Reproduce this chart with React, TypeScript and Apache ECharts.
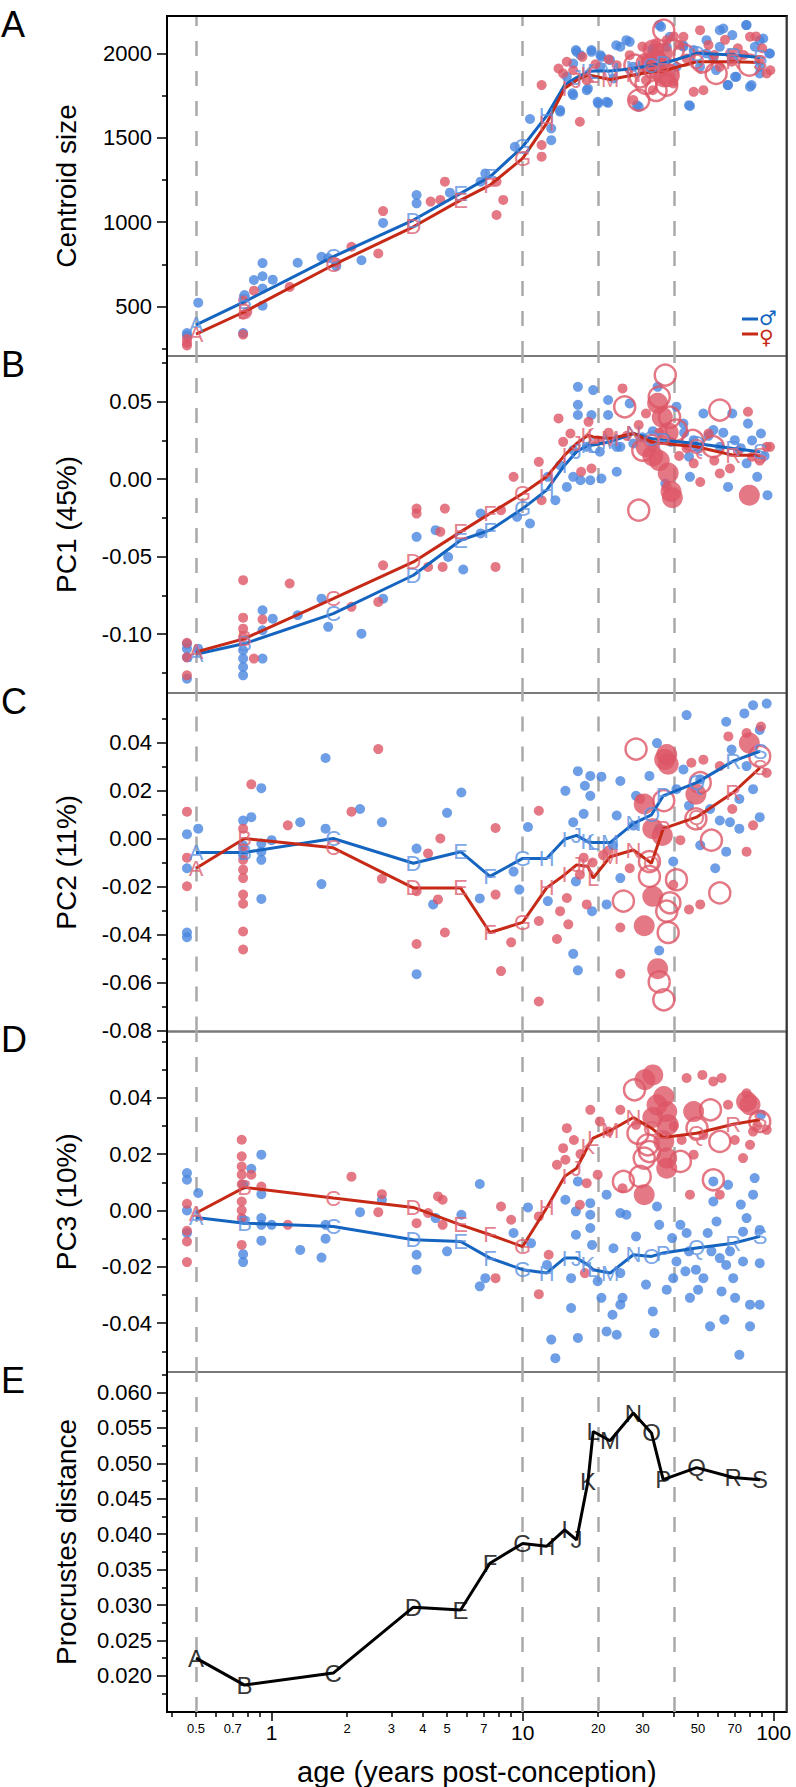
import React, { useEffect, useRef } from "react";
import * as echarts from "echarts";

// ---------- DATA ----------
const groupLetters = ["A","B","C","D","E","F","G","H","I","J","K","L","M","N","O","P","Q","R","S"];
const groupAges = [0.5,0.78,1.76,3.67,5.66,7.41,10.0,12.46,14.7,16.4,18.2,19.1,22.3,27.6,32.6,36.3,49.3,69,88.2];

const csMaleMean = [392,530,796,1013,1171,1269,1447,1630,1813,1857,1891,1895,1896,1910,1930,1940,2000,1990,1976];
const csFemaleMean = [337,470,747,973,1131,1220,1378,1585,1793,1841,1872,1866,1845,1872,1891,1896,1950,1950,1946];
const pc1MaleMean = [-0.113,-0.1061,-0.0868,-0.062,-0.0394,-0.0329,-0.019,-0.0071,0.009,0.0177,0.022,0.022,0.0241,0.0295,0.0263,0.0252,0.023,0.0198,0.0177];
const pc1FemaleMean = [-0.1115,-0.1029,-0.0771,-0.0534,-0.034,-0.0222,-0.0092,0.0015,0.0155,0.023,0.0284,0.0273,0.0263,0.0295,0.0241,0.023,0.0209,0.0155,0.0155];
const pc2MaleMean = [-0.0058,-0.0058,0.0,-0.0103,-0.0055,-0.0158,-0.0083,-0.0083,-0.0003,0.0013,-0.0014,-0.0017,-0.0017,0.0062,0.0099,0.0178,0.0233,0.0323,0.0364];
const pc2FemaleMean = [-0.0124,0.0,-0.0039,-0.0206,-0.0206,-0.0392,-0.035,-0.0206,-0.0151,-0.011,-0.0117,-0.0165,-0.0076,-0.0048,-0.0103,0.0041,0.0089,0.0192,0.0295];
const pc3MaleMean = [-0.0025,-0.0045,-0.0057,-0.0104,-0.011,-0.0169,-0.021,-0.0222,-0.0169,-0.0169,-0.0193,-0.021,-0.0222,-0.0157,-0.0163,-0.0151,-0.0133,-0.0116,-0.0092];
const pc3FemaleMean = [-0.0009,0.0082,0.0044,0.0011,-0.0051,-0.0086,-0.0128,0.0009,0.0121,0.015,0.0227,0.0257,0.0283,0.033,0.0292,0.0259,0.0274,0.0306,0.0322];
const procrustesDist = [0.0225,0.0187,0.0204,0.0297,0.0293,0.0359,0.0387,0.0383,0.0406,0.0392,0.0474,0.0545,0.0532,0.0571,0.0543,0.0477,0.0494,0.048,0.0477];

const csMale = [[0.46,344],[0.46,330],[0.51,524],[0.77,344],[0.78,569],[0.85,658],[0.92,758],[0.92,680],[0.92,607],[0.92,506],[1.01,660],[1.27,760],[1.58,795],[1.68,788],[1.81,740],[2.28,775],[2.78,996],
[3.78,1161],[3.78,1112],[5.13,1175],[6.8,1240],[7.1,1289],[9.31,1447],[10.7,1611],[13,1555],[13,1486],[14.1,1654],[15.9,1753],[16.3,2019],[17,1989],[18,1782],[18.8,2019],[20,1703],[21.9,1707],[20.6,1979],[22.3,1960],[24.5,2039],[25.9,2078],[23,1851],[27.6,1920],[29,1684],[32.9,2019],[35.6,2157],[38.6,2098],[43.7,2039],[46.4,1688],[50.9,1920],[57.5,1970],[63,2147],[65.8,1812],[68.4,2108],[70.2,1861],[78,2167],[81.6,1812],[84.2,2039],[88,1920],[90.9,2088],[96.7,1999],[88,1881],[61,2039],[54,2078],[48,2019],[41,1920],[32.5,1950],[20.3,1920],[15.9,1940],[15,1861],
[16.4,2009],[18.8,2009],[20.4,1989],[23.6,2048],[26.7,2068],[35,2167],[37.5,2038],[33,2029],[43.6,2048],[54,1999],[61,2137],[68.8,1979],[77.7,2167],[88,2078],[96,1999],[71,1861],[65.6,1812],[46,1693],[28.5,1693],[21.6,1713],[19.9,1713],[15.8,1763],[18.2,1792],[14.1,1664],[59,1901],[80.5,1802]];
const csFemale = [[0.46,285],[0.46,270],[0.46,310],[0.77,335],[0.77,452],[0.77,540],[0.8,470],[0.85,595],[1.18,617],[1.81,760],[2.08,855],[2.66,815],[2.78,1066],[4.9,1240],[4.3,1122],[4.7,1132],[7.87,1043],[8.37,1132],[7.87,1240],[11.9,1457],[11.9,1388],[11.9,1812],[13.9,1910],[15,1950],[16.9,1595],[18,1841],[15.9,1900],[17.3,1979],[26.7,1989],[27.6,1723],[48,1772],[52.5,1782],[43.7,2098],[50.9,2137],[45,1969],[67,1999],[80.5,2098],[88,1960],[93.8,1881],[61,1920],[68,1950],[37.5,2078],[31,1960],[35,1920],[31,1841],[33,1782],[39.8,1822],[23.7,1930],[14.5,1880],[19.5,1935],[22,1965],[30,2040],[34,2060],[40,2100],[42,2050],[55,2050],[58,1990],[64,2080],[72,2030],[76,1990],[85,2100],[90,2030],[97,1900]];
const csFemaleRing = [[29,1723],[36.5,2137],[31,1822],[37.5,1812],[33,1920],[29.4,1861],[39.8,2019],[59,1881],[80,1930],[34,1780],[38,1870],[44,1990],[52,1950],[28,1930]];
const csFemaleLarge = [[33,2019],[36,2000],[35,1920],[31,1940],[38,1880],[34,1960],[36.5,1860]];

const pc1Male = [[0.46,-0.1062],[0.46,-0.1094],[0.46,-0.115],[0.46,-0.1288],[0.51,-0.1094],[0.77,-0.1212],[0.77,-0.1266],[0.77,-0.1158],[0.77,-0.1104],[0.92,-0.0846],[0.92,-0.0975],[0.92,-0.1158],[1.01,-0.09],[1.27,-0.0878],[1.58,-0.0771],[1.68,-0.0953],[2.28,-0.0997],[2.78,-0.0771],
[3.78,-0.0372],[4.5,-0.0329],[5.05,-0.0502],[5.8,-0.0583],[6.8,-0.0222],[6.8,-0.035],[9.5,-0.0243],[10.7,-0.0286],[12.6,0.0015],[13.5,-0.0136],[15,-0.005],[15.9,0.0015],[16.6,0.0596],[16.6,0.048],[16.6,0.0414],[19.1,0.0575],[18.8,0.0414],[17,-0.0007],[18.6,-0.0007],[20.6,0.0004],[21.9,0.0511],[21.9,0.0414],[23.7,0.0048],[24.5,0.0209],[26.7,0.0489],[34.5,0.0596],[37,-0.0028],[41,0.0468],[43.7,0.0359],[46.4,0.0015],[52.5,0.0424],[57.5,0.0317],[65.8,-0.005],[68.4,0.0424],[79,0.0359],[89,0.0295],[94.5,-0.0103],[86,0.0015],[78,0.0102],[61,0.0209],[48,0.0252],[70,0.0252],[46,0.0145],[23.7,0.0209],[27.6,0.023],[20.3,0.0177],[18,0.0209],[15.9,0.0187],[14.1,0.009],[30,0.027],[33,0.031],[39,0.024],[44,0.03],[50,0.02],[55,0.028],[63,0.03],[74,0.02],[82,0.025],[92,0.015]];
const pc1Female = [[0.46,-0.115],[0.46,-0.1266],[0.46,-0.1056],[0.77,-0.0652],[0.77,-0.0894],[0.77,-0.0965],[0.77,-0.1019],[0.85,-0.1158],[0.92,-0.0905],[1.18,-0.0673],[2.08,-0.0824],[2.66,-0.0792],[2.78,-0.0556],
[3.78,-0.019],[3.78,-0.0222],[4.9,-0.019],[4.7,-0.034],[4.2,-0.0566],[4.8,-0.0566],[7.8,-0.0566],[8.2,-0.02],[9.2,0.0015],[11.6,0.0112],[11.9,-0.0136],[13.9,0.0392],[14.5,0.0241],[15.5,0.0295],[17.1,0.0048],[18.3,0.037],[18.8,0.0069],[25,0.0586],[31,0.0424],[33,0.0209],[37.5,-0.005],[48,0.0102],[51,-0.0018],[61,0.0037],[67,0.0069],[79,0.0435],[93.8,0.0209],[96.7,0.0209],[82,0.0145],[55,0.0295],[20,0.025],[22,0.03],[26,0.028],[29,0.035],[35,0.03],[42,0.015],[45,0.02],[58,0.012],[72,0.018],[88,0.012]];
const pc1FemaleRing = [[37,0.0672],[29,-0.02],[61,0.0446],[25.5,0.0467],[35,0.053],[38.5,0.04],[30.1,0.0187],[41,0.0317],[47.6,0.025],[57.4,0.021]];
const pc1FemaleLarge = [[34.5,0.049],[36,0.04],[38,0.03],[35,0.012],[38,0.004],[39,-0.008],[39.5,-0.012],[33,0.015],[31,0.021],[80,-0.0103]];

const pc2Male = [[0.46,0.0018],[0.46,-0.0124],[0.46,-0.0392],[0.46,-0.0412],[0.51,0.0041],[0.77,0.0075],[0.77,-0.0028],[0.77,-0.0069],[0.83,0.0089],[0.91,0.021],[0.91,-0.0021],[0.91,-0.0055],[0.91,-0.0089],[0.91,-0.0252],[1.0,-0.0007],[1.3,0.0068],[1.58,-0.019],[1.64,0.0336],[1.64,0.0041],[2.25,0.0123],[2.75,0.0068],
[3.78,-0.0042],[3.78,-0.0566],[4.4,-0.0275],[5.0,0.0107],[5.7,0.0192],[6.75,-0.025],[9.2,-0.0138],[9.7,-0.0213],[10.5,0.0048],[12.6,-0.0261],[14.8,0.0199],[15.9,0.0068],[15.9,-0.0481],[16.6,0.0281],[16.6,-0.055],[17.5,0.0103],[17.7,0.022],[18.6,0.0261],[18.6,0.0178],[20.6,0.0258],[16.3,-0.0179],[18.9,-0.0303],[21.6,-0.0275],[24.5,0.024],[24.5,-0.0165],[23.7,0.0096],[28.3,0.0178],[32,0.0261],[34.3,0.0398],[35,-0.0467],[39.8,-0.0096],[43.7,0.0288],[45,0.0515],[46,0.0137],[51,0.0247],[58.5,-0.0124],[61,0.0075],[64.7,0.0487],[64.7,-0.0055],[68,0.0371],[73,0.0041],[76.4,0.0522],[82.8,0.0556],[93.8,0.0563],[88,0.0089],[82.8,0.0206],[78,0.0302],[88,0.0453],[51,-0.0028],[55.8,0.0123],[67,0.0068],[73,0.0165],[41,0.0206],[35,0.0041],[27.6,0.0054],[22.9,-0.0028]];
const pc2Female = [[0.46,0.0112],[0.46,-0.008],[0.46,-0.0199],[0.77,0.0041],[0.77,-0.0041],[0.77,-0.0089],[0.77,-0.013],[0.77,-0.0165],[0.77,-0.0234],[0.77,-0.0272],[0.77,-0.0388],[0.77,-0.0463],[0.83,0.0226],[1.16,0.0055],[2.08,0.0112],[2.66,0.0373],[2.75,-0.0168],
[3.78,-0.022],[3.78,-0.044],[4.2,-0.0062],[4.7,0.0],[4.6,-0.0254],[4.9,-0.0392],[7.8,0.0044],[7.8,-0.0234],[8.2,-0.0553],[9.0,-0.0433],[11.6,0.0116],[11.6,-0.0344],[11.6,-0.068],[13.7,-0.0419],[14.1,-0.0303],[15,-0.0248],[15.2,-0.0358],[18,-0.0275],[16.9,-0.0151],[20.9,-0.0069],[24.5,-0.0371],[24.5,-0.0564],[26.7,-0.0124],[29.4,0.0165],[39.8,-0.0193],[42.5,-0.0007],[46,-0.0296],[47,0.0316],[51,-0.0275],[52.5,0.0329],[66,0.0426],[68.4,0.0123],[78,-0.0055],[82.8,0.0055],[89,0.0467],[93.8,0.0274],[78,0.044],[61,0.0302],[19,-0.01],[22,-0.005],[17.5,-0.008]];
const pc2FemaleRing = [[28.3,0.0373],[36.5,0.0158],[32,-0.0096],[32,-0.0158],[41,-0.0172],[25.2,-0.0261],[38.6,-0.0268],[37.5,-0.0303],[38,-0.0392],[35,-0.0598],[36.5,-0.0673],[61,-0.0227],[56.5,-0.0007],[49,0.0082],[88,0.0343],[51,0.0233]];
const pc2FemaleLarge = [[37.5,0.035],[38,0.031],[36.8,0.033],[30.5,0.0144],[33,0.0041],[36,0.0013],[49,0.0185],[33,-0.0241],[30.5,-0.0364],[34.5,-0.0543],[80,0.0398]];

const pc3Male = [[0.46,0.0133],[0.46,0.0109],[0.46,0.0],[0.46,-0.008],[0.51,0.0062],[0.77,0.0091],[0.77,-0.0033],[0.77,-0.0155],[0.77,-0.0183],[0.83,0.0148],[0.91,0.0198],[0.91,0.0058],[0.91,-0.0027],[0.91,-0.0051],[0.91,-0.0107],[1.0,-0.0051],[1.3,-0.014],[1.58,-0.0167],[1.64,-0.01],[1.64,-0.0051],[2.25,-0.0006],[2.75,0.0038],
[3.78,-0.0157],[3.78,-0.021],[4.5,-0.0027],[5.0,-0.0145],[5.7,-0.0015],[6.75,0.0094],[6.75,-0.0269],[7.1,-0.024],[9.2,-0.008],[10.5,0.0011],[10.8,-0.0116],[12.5,-0.0193],[13,-0.0458],[13.5,-0.0524],[14.8,0.0038],[15.6,-0.024],[15.6,-0.0346],[16.3,-0.0003],[16.3,-0.0086],[16.6,-0.0452],[16.6,0.0103],[18.6,0.0026],[18.6,-0.0015],[18.6,-0.0062],[18.9,-0.0122],[19.9,-0.0251],[20.6,-0.031],[21.6,0.0056],[21.6,-0.0429],[22.8,-0.037],[23.7,-0.0441],[24.5,-0.0009],[24.5,-0.0334],[25,-0.031],[25.9,-0.0015],[23,-0.0134],[24.5,-0.0222],[28.3,-0.0092],[31,-0.0263],[33,-0.0358],[33.5,-0.0435],[34.3,0.0014],[35,-0.0051],[37.5,-0.0281],[39.4,-0.0098],[39.8,-0.024],[42.5,-0.0051],[44.5,-0.0216],[45,-0.008],[46.4,-0.031],[49,-0.021],[50,-0.0281],[52.5,-0.024],[54.6,-0.008],[55.8,-0.0411],[57.5,0.0103],[57.5,0.0032],[59.2,-0.0039],[61,-0.0169],[62,-0.0287],[63.6,-0.0387],[65.8,0.0091],[64.7,-0.0193],[69,-0.024],[70.2,-0.031],[73,-0.0512],[74,0.0021],[75.5,-0.0181],[78,-0.0027],[80.5,-0.0411],[80.5,-0.0334],[82.8,0.0056],[84,0.0115],[88,-0.0187],[88,-0.0334],[88,-0.0069],[89,0.034],[75.5,-0.0075],[67,-0.0145],[41,-0.0181],[46,-0.0145],[56.5,-0.0145]];
const pc3Female = [[0.46,0.0024],[0.46,-0.0072],[0.46,-0.011],[0.46,-0.0183],[0.76,0.0251],[0.76,0.0192],[0.76,0.0156],[0.76,0.0127],[0.76,0.0093],[0.76,0.0032],[0.76,0.0001],[0.76,-0.0027],[0.76,-0.0122],[0.83,0.0127],[0.91,0.0085],[1.16,-0.0051],[2.08,0.012],[2.66,-0.0006],[2.75,0.0058],
[3.78,-0.0045],[4.6,0.005],[4.8,0.0038],[4.2,-0.0009],[4.8,-0.0051],[7.8,-0.024],[8.2,0.0014],[9.0,-0.0033],[11.6,-0.0021],[11.6,-0.0297],[12.7,-0.0157],[13.7,0.0162],[14.5,0.0221],[14.8,0.018],[15,0.0292],[16.9,0.002],[17.7,-0.0222],[18,0.0097],[18.6,0.0357],[19.9,0.0127],[20.3,0.0316],[24.5,0.0357],[25,0.0079],[28.3,0.0304],[45,0.047],[46.4,0.0056],[48,0.0198],[52,0.0481],[57.5,0.0458],[62,0.047],[65.8,0.0375],[75.5,0.0186],[78,0.0416],[80.5,0.0233],[82.8,0.028],[93.8,0.0286],[61,0.0056],[52.5,0.0268],[16,0.025],[17,0.02],[22,0.028],[70,0.025],[86,0.03],[40,0.03],[43,0.025]];
const pc3FemaleRing = [[27.9,0.0428],[28.8,0.0274],[30.5,0.0186],[31.5,0.0233],[32,0.0209],[29.4,0.0121],[25.2,0.0103],[42.5,0.0174],[56,0.0357],[61,0.0245],[57.5,0.0109],[49.5,0.0292],[88,0.0316]];
const pc3FemaleLarge = [[33,0.0481],[30.7,0.0464],[36.5,0.0404],[34.3,0.0375],[37.5,0.0351],[38,0.0304],[36.5,0.0245],[37.5,0.0186],[37.5,0.015],[30.5,0.0056],[48,0.0351],[78,0.0387],[80.5,0.0375],[33,0.033]];

// ticks
const ageLabelTicks = [0.5,0.7,1,2,3,4,5,7,10,20,30,50,70,100];
const ageMajorTicks = [1,10,100];
const ageMinorTicks = [0.4,0.5,0.6,0.7,0.8,0.9,2,3,4,5,6,7,8,9,20,30,40,50,60,70,80,90];
const referenceAges = [0.5,10,20,40];
const csTicks = [500,1000,1500,2000];
const csMinorTicks = [250,750,1250,1750];
const pc1Ticks = [-0.1,-0.05,0,0.05];
const pc1MinorTicks = [-0.125,-0.075,-0.025,0.025,0.075];
const pc2Ticks = [-0.08,-0.06,-0.04,-0.02,0,0.02,0.04];
const pc2MinorTicks = [-0.07,-0.05,-0.03,-0.01,0.01,0.03,0.05];
const pc3Ticks = [-0.04,-0.02,0,0.02,0.04];
const pc3MinorTicks = [-0.05,-0.03,-0.01,0.01,0.03,0.05,0.06];
const pdTicks = [0.02,0.025,0.03,0.035,0.04,0.045,0.05,0.055,0.06];
const pdMinorTicks = [0.0175,0.0225,0.0275,0.0325,0.0375,0.0425,0.0475,0.0525,0.0575,0.0625];

// ---------- STYLE / LAYOUT ----------
const FONT = '"Liberation Sans", Arial, Helvetica, sans-serif';
const BLUE_PT = "#4a86df";
const RED_PT = "#dd5667";
const BLUE_LINE = "#1565c0";
const RED_LINE = "#c62a17";
const BLUE_TXT = "#5b90e0";
const RED_TXT = "#dd6070";
const LEFT = 167;
const RIGHT_X = 786.7;
const tops = [16, 356, 693, 1031.5, 1372];
const bottoms = [356, 693, 1031.5, 1372, 1712];
const XMIN = 0.383;
const XMAX = 112.7;

type Panel = { name: string; min: number; max: number; major: number[]; minor: number[]; dec: number };
const panels: Panel[] = [
  { name: "Centroid size", min: 208, max: 2221, major: csTicks, minor: csMinorTicks, dec: 0 },
  { name: "PC1 (45%)", min: -0.138, max: 0.0795, major: pc1Ticks, minor: pc1MinorTicks, dec: 2 },
  { name: "PC2 (11%)", min: -0.0805, max: 0.0607, major: pc2Ticks, minor: pc2MinorTicks, dec: 2 },
  { name: "PC3 (10%)", min: -0.0573, max: 0.0635, major: pc3Ticks, minor: pc3MinorTicks, dec: 2 },
  { name: "Procrustes distance", min: 0.0149, max: 0.0629, major: pdTicks, minor: pdMinorTicks, dec: 3 },
];

function meanPairs(means: number[]) {
  return groupAges.map((a, i) => [a, means[i]]);
}
function letterTriples(means: number[]) {
  return groupAges.map((a, i) => [a, means[i], groupLetters[i]]);
}

const vMarkLine = {
  silent: true,
  z: 1,
  symbol: ["none", "none"],
  label: { show: false },
  lineStyle: { color: "#a9a9a9", width: 2.5, type: [15, 15] },
  data: referenceAges.map((v) => ({ xAxis: v })),
};

function letterSeries(g: number, means: number[], color: string, size: number) {
  return {
    type: "scatter",
    xAxisIndex: g,
    yAxisIndex: 2 * g,
    data: letterTriples(means),
    symbolSize: 2,
    silent: true,
    z: 6,
    itemStyle: { color: "rgba(0,0,0,0)" },
    labelLayout: { hideOverlap: false },
    label: {
      show: true,
      position: "inside",
      formatter: (p: any) => p.value[2],
      color,
      fontSize: size,
      fontFamily: FONT,
    },
  };
}

function sexPanel(g: number, male: number[][], female: number[][], ring: number[][], large: number[][], mMean: number[], fMean: number[]) {
  return [
    { type: "scatter", xAxisIndex: g, yAxisIndex: 2 * g, data: male, symbolSize: 10, itemStyle: { color: BLUE_PT }, silent: true, markLine: vMarkLine },
    { type: "scatter", xAxisIndex: g, yAxisIndex: 2 * g, data: female, symbolSize: 10, itemStyle: { color: RED_PT }, silent: true },
    { type: "scatter", xAxisIndex: g, yAxisIndex: 2 * g, data: large, symbolSize: 21, itemStyle: { color: RED_PT }, silent: true },
    { type: "scatter", xAxisIndex: g, yAxisIndex: 2 * g, data: ring, symbolSize: 21, itemStyle: { color: "rgba(0,0,0,0)", borderColor: RED_PT, borderWidth: 2.5 }, silent: true },
    letterSeries(g, mMean, BLUE_TXT, 22),
    letterSeries(g, fMean, RED_TXT, 22),
    { type: "line", xAxisIndex: g, yAxisIndex: 2 * g, data: meanPairs(mMean), symbol: "none", z: 5, lineStyle: { color: BLUE_LINE, width: 3 }, silent: true },
    { type: "line", xAxisIndex: g, yAxisIndex: 2 * g, data: meanPairs(fMean), symbol: "none", z: 5, lineStyle: { color: RED_LINE, width: 3 }, silent: true },
  ];
}

function buildOption() {
  const grid = tops.map((t, i) => ({
    left: LEFT,
    width: RIGHT_X - LEFT,
    top: t,
    height: bottoms[i] - t,
    show: true,
    borderColor: "#7a7a7a",
    borderWidth: 2,
    backgroundColor: "rgba(0,0,0,0)",
  }));

  const xAxis: any[] = tops.map((_, i) => ({
    type: "log",
    logBase: 10,
    gridIndex: i,
    min: XMIN,
    max: XMAX,
    position: "bottom",
    show: i === 4,
    axisLine: { show: true, onZero: false, lineStyle: { color: "#000", width: 2 } },
    axisTick: { show: true, length: 9, customValues: ageMajorTicks, lineStyle: { color: "#000", width: 1.5 } },
    axisLabel: {
      show: true,
      customValues: ageLabelTicks,
      margin: 10,
      color: "#000",
      fontFamily: FONT,
      formatter: (v: number) => (v === 1 || v === 10 || v === 100 ? `{b|${v}}` : `{s|${v}}`),
      rich: {
        b: { fontSize: 21, fontFamily: FONT, color: "#000" },
        s: { fontSize: 13, fontFamily: FONT, color: "#000" },
      },
    },
    splitLine: { show: false },
    name: i === 4 ? "age (years post-conception)" : "",
    nameLocation: "middle",
    nameGap: 45,
    nameTextStyle: { fontSize: 29, color: "#000", fontFamily: FONT },
  }));
  xAxis.push({
    type: "log",
    logBase: 10,
    gridIndex: 4,
    min: XMIN,
    max: XMAX,
    position: "bottom",
    axisLine: { show: false },
    axisTick: { show: true, length: 5, customValues: ageMinorTicks, lineStyle: { color: "#000", width: 1.5 } },
    axisLabel: { show: false },
    splitLine: { show: false },
  });

  const yAxis: any[] = [];
  panels.forEach((p, i) => {
    yAxis.push({
      type: "value",
      gridIndex: i,
      min: p.min,
      max: p.max,
      position: "left",
      axisLine: { show: true, onZero: false, lineStyle: { color: "#000", width: 2 } },
      axisTick: { show: true, length: 10, customValues: p.major, lineStyle: { color: "#000", width: 1.5 } },
      axisLabel: {
        show: true,
        customValues: p.major,
        margin: 15,
        fontSize: 22,
        color: "#000",
        fontFamily: FONT,
        formatter: (v: number) => (p.dec === 0 ? String(Math.round(v)) : (Math.abs(v) < 1e-9 ? 0 : v).toFixed(p.dec)),
      },
      splitLine: { show: false },
      name: p.name,
      nameLocation: "middle",
      nameGap: 87,
      nameTextStyle: { fontSize: 28, color: "#000", fontFamily: FONT },
    });
    yAxis.push({
      type: "value",
      gridIndex: i,
      min: p.min,
      max: p.max,
      position: "left",
      axisLine: { show: false, onZero: false },
      axisTick: { show: true, length: 5, customValues: p.minor, lineStyle: { color: "#000", width: 1.5 } },
      axisLabel: { show: false },
      splitLine: { show: false },
    });
  });

  const series: any[] = [
    ...sexPanel(0, csMale, csFemale, csFemaleRing, csFemaleLarge, csMaleMean, csFemaleMean),
    ...sexPanel(1, pc1Male, pc1Female, pc1FemaleRing, pc1FemaleLarge, pc1MaleMean, pc1FemaleMean),
    ...sexPanel(2, pc2Male, pc2Female, pc2FemaleRing, pc2FemaleLarge, pc2MaleMean, pc2FemaleMean),
    ...sexPanel(3, pc3Male, pc3Female, pc3FemaleRing, pc3FemaleLarge, pc3MaleMean, pc3FemaleMean),
    {
      type: "line",
      xAxisIndex: 4,
      yAxisIndex: 8,
      data: meanPairs(procrustesDist),
      symbol: "none",
      z: 5,
      lineStyle: { color: "#000", width: 3 },
      silent: true,
      markLine: vMarkLine,
    },
    letterSeries(4, procrustesDist, "#000", 24),
  ];

  const panelLetters = ["A", "B", "C", "D", "E"];
  const graphic: any[] = [
    ...panelLetters.map((L, i) => ({
      type: "text",
      x: 1,
      y: tops[i] - 10,
      z: 10,
      style: { text: L, font: `36px ${FONT}`, fill: "#000", verticalAlign: "top", align: "left" },
    })),
    { type: "line", z: 10, shape: { x1: LEFT - 1, y1: tops[0], x2: RIGHT_X + 1, y2: tops[0] }, style: { stroke: "#000", lineWidth: 2 } },
    { type: "line", z: 10, shape: { x1: RIGHT_X, y1: tops[0], x2: RIGHT_X, y2: bottoms[4] }, style: { stroke: "#333", lineWidth: 2 } },
    { type: "line", z: 10, shape: { x1: 742, y1: 319, x2: 758, y2: 319 }, style: { stroke: BLUE_LINE, lineWidth: 3 } },
    { type: "line", z: 10, shape: { x1: 742, y1: 334, x2: 758, y2: 334 }, style: { stroke: RED_LINE, lineWidth: 3 } },
    { type: "text", z: 10, x: 759, y: 318, style: { text: "♂", font: '20px "DejaVu Sans"', fill: BLUE_LINE, verticalAlign: "middle", align: "left" } },
    { type: "text", z: 10, x: 759, y: 337, style: { text: "♀", font: '20px "DejaVu Sans"', fill: RED_LINE, verticalAlign: "middle", align: "left" } },
  ];

  return {
    animation: false,
    backgroundColor: "#ffffff",
    textStyle: { fontFamily: FONT },
    grid,
    xAxis,
    yAxis,
    series,
    graphic,
  };
}

export default function App() {
  const ref = useRef<HTMLDivElement>(null);
  useEffect(() => {
    document.body.style.margin = "0";
    if (!ref.current) return;
    const chart = echarts.init(ref.current, undefined, { renderer: "svg" });
    chart.setOption(buildOption() as any);
    return () => chart.dispose();
  }, []);
  return <div ref={ref} style={{ width: 796, height: 1787, background: "#fff" }} />;
}
